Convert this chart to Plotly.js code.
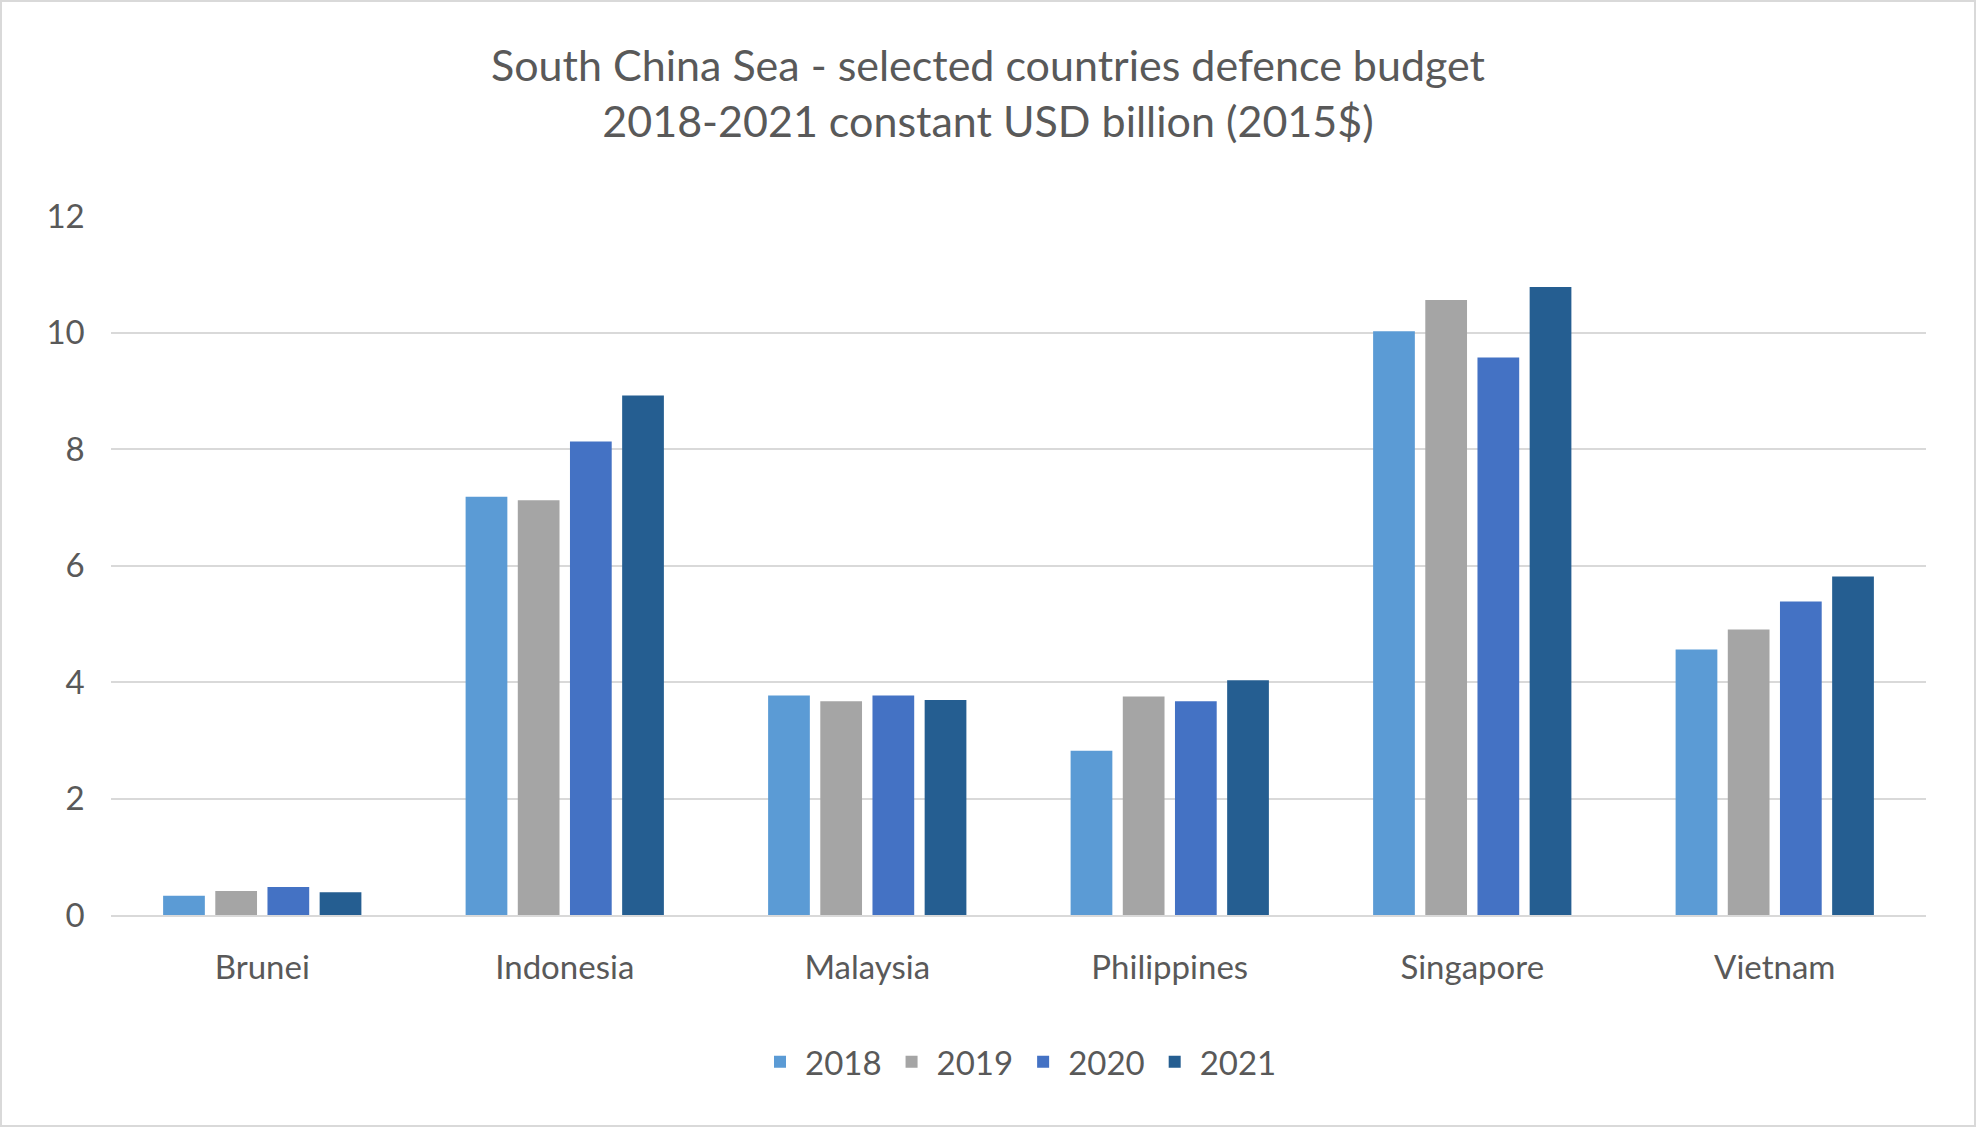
<!DOCTYPE html>
<html>
<head>
<meta charset="utf-8">
<script src="https://cdn.plot.ly/plotly-3.0.1.min.js"></script>
<style>
  html, body { margin: 0; padding: 0; background: #fff; }
  #chart { width: 1976px; height: 1127px; box-sizing: border-box; border: 2px solid #d9d9d9; }
</style>
</head>
<body>
<div id="chart"></div>
<script>
// data
var countries = ['Brunei', 'Indonesia', 'Malaysia', 'Philippines', 'Singapore', 'Vietnam'];
var years = ['2018', '2019', '2020', '2021'];
var v2018 = [0.33, 7.18, 3.77, 2.82, 10.02, 4.56];
var v2019 = [0.41, 7.12, 3.67, 3.75, 10.56, 4.90];
var v2020 = [0.48, 8.13, 3.77, 3.67, 9.57, 5.38];
var v2021 = [0.39, 8.92, 3.69, 4.03, 10.78, 5.81];
var colors = ['#5B9BD5', '#A5A5A5', '#4472C4', '#255E91'];

var series = [v2018, v2019, v2020, v2021];
var traces = [];
for (var i = 0; i < years.length; i++) {
  traces.push({
    x: countries,
    y: series[i],
    name: years[i],
    type: 'bar',
    marker: { color: colors[i] }
  });
}

var font = 'Lato, "Open Sans", sans-serif';
var layout = {
  width: 1972, height: 1123,
  margin: { l: 109, r: 48, t: 214, b: 210 },
  paper_bgcolor: '#fff', plot_bgcolor: '#fff',
  font: { family: font, color: '#595959', size: 33 },
  title: {
    text: 'South China Sea - selected countries defence budget<br>2018-2021 constant USD billion (2015$)',
    font: { family: font, size: 43, color: '#595959' },
    x: 0.5, y: 0.93, yanchor: 'top'
  },
  barmode: 'group',
  bargap: 0.31,
  bargroupgap: 0.2,
  xaxis: { showgrid: false, showline: true, linecolor: '#d9d9d9', linewidth: 2, ticks: '', ticklabelstandoff: 22, tickfont: { size: 33 } },
  yaxis: { range: [0, 12], dtick: 2, gridcolor: '#d9d9d9', gridwidth: 2, zeroline: false, ticks: '', ticklen: 0, tickfont: { size: 33 }, ticksuffix: '   ' },
  showlegend: true,
  legend: { orientation: 'h', x: 0.5, xanchor: 'center', y: -0.17, yanchor: 'top', font: { size: 33 }, itemwidth: 40 }
};

Plotly.newPlot('chart', traces, layout, { displayModeBar: false });
</script>
</body>
</html>
